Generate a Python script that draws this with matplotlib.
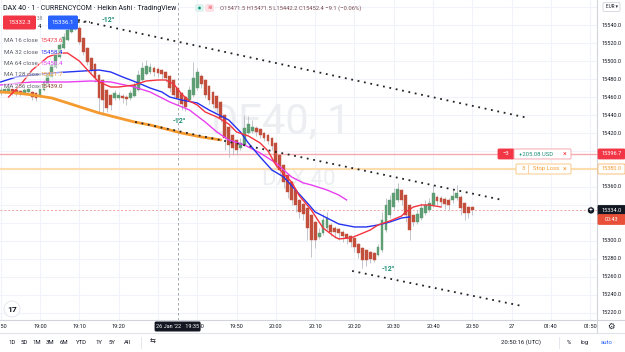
import matplotlib
matplotlib.use('Agg')
import matplotlib.pyplot as plt
from matplotlib.patches import FancyBboxPatch, Circle

plt.rcParams['font.family'] = ['Roboto', 'DejaVu Sans']

# bar index = minutes after 19:00 (1 minute Heikin Ashi bars)
bar_idx = list(range(-10, 111))
ha_open = [
    15464.5, 15465.6, 15466.7, 15468.9, 15467.8, 15466.7, 15464.5, 15465.6, 15465.6, 15464.5,
    15461.1, 15467.8, 15474.5, 15482.3, 15493.4, 15504.5, 15514.5, 15523.4, 15532.2, 15536.7,
    15536.7, 15525.6, 15514.5, 15503.4, 15496.7, 15484.5, 15478.9, 15467.8, 15462.3, 15458.9,
    15458.9, 15461.1, 15460.0, 15458.9, 15461.1, 15467.8, 15478.9, 15485.6, 15487.8, 15492.3,
    15491.1, 15490.0, 15487.8, 15483.4, 15478.9, 15470.0, 15464.5, 15460.0, 15456.7, 15462.3,
    15470.0, 15483.4, 15478.9, 15472.3, 15465.6, 15461.1, 15454.5, 15440.0, 15426.7, 15417.8,
    15412.3, 15403.4, 15406.7, 15420.0, 15422.3, 15425.6, 15424.5, 15420.0, 15417.8, 15414.5,
    15408.9, 15395.6, 15384.5, 15373.4, 15365.6, 15356.7, 15345.6, 15341.1, 15336.7, 15328.9,
    15321.1, 15304.5, 15308.9, 15314.5, 15317.8, 15314.5, 15313.4, 15310.0, 15307.8, 15305.6,
    15303.4, 15296.7, 15292.3, 15290.0, 15287.8, 15286.7, 15284.5, 15290.0, 15312.2, 15328.9,
    15337.8, 15345.6, 15356.7, 15351.1, 15340.0, 15328.9, 15321.1, 15325.6, 15331.1, 15334.5,
    15340.0, 15348.9, 15347.8, 15346.7, 15345.6, 15345.6, 15347.8, 15348.9, 15342.3, 15337.8,
    15337.8]
ha_high = [
    15471.1, 15472.3, 15473.4, 15470.0, 15468.9, 15467.8, 15470.0, 15471.1, 15466.7, 15465.6,
    15472.3, 15478.9, 15487.8, 15498.9, 15510.0, 15521.1, 15531.1, 15538.9, 15547.8, 15545.6,
    15538.9, 15526.7, 15515.6, 15504.5, 15497.8, 15485.6, 15480.0, 15468.9, 15463.4, 15467.8,
    15465.6, 15463.4, 15462.3, 15467.8, 15476.7, 15490.0, 15498.9, 15501.1, 15497.8, 15494.5,
    15493.4, 15491.1, 15488.9, 15484.5, 15480.0, 15471.1, 15465.6, 15461.1, 15472.3, 15498.9,
    15492.3, 15485.6, 15480.0, 15473.4, 15466.7, 15462.3, 15455.6, 15441.1, 15427.8, 15418.9,
    15413.4, 15414.5, 15440.0, 15439.0, 15434.5, 15427.8, 15425.6, 15421.1, 15418.9, 15415.6,
    15410.0, 15396.7, 15385.6, 15374.5, 15366.7, 15357.8, 15346.7, 15342.3, 15337.8, 15330.0,
    15322.3, 15314.5, 15330.0, 15332.2, 15320.0, 15316.7, 15314.5, 15312.2, 15308.9, 15306.7,
    15304.5, 15297.8, 15293.4, 15291.1, 15288.9, 15287.8, 15296.7, 15332.2, 15347.8, 15351.1,
    15359.0, 15364.5, 15357.8, 15352.2, 15341.1, 15330.0, 15334.5, 15342.3, 15345.6, 15347.8,
    15362.3, 15351.1, 15350.0, 15348.9, 15347.8, 15356.7, 15362.3, 15351.1, 15343.4, 15338.9,
    15338.9]
ha_low = [
    15462.3, 15464.5, 15465.6, 15462.3, 15461.1, 15461.1, 15463.4, 15464.5, 15456.7, 15455.6,
    15460.0, 15466.7, 15473.4, 15481.1, 15492.3, 15503.4, 15513.4, 15522.3, 15531.1, 15534.5,
    15519.0, 15506.7, 15495.6, 15486.7, 15476.7, 15443.4, 15440.0, 15443.4, 15445.6, 15456.7,
    15456.7, 15453.4, 15451.1, 15456.7, 15460.0, 15466.7, 15477.8, 15484.5, 15485.6, 15483.4,
    15482.3, 15480.0, 15476.7, 15465.6, 15458.9, 15453.4, 15445.6, 15444.5, 15454.5, 15460.0,
    15467.8, 15470.0, 15458.9, 15452.3, 15447.8, 15443.4, 15432.3, 15401.1, 15393.4, 15395.6,
    15395.6, 15401.1, 15405.6, 15418.9, 15420.0, 15417.0, 15414.5, 15411.1, 15408.0, 15401.1,
    15381.1, 15373.4, 15358.9, 15347.8, 15340.0, 15332.2, 15325.6, 15323.4, 15301.1, 15282.3,
    15292.3, 15302.3, 15306.7, 15312.2, 15305.6, 15303.4, 15301.1, 15298.9, 15296.7, 15293.4,
    15287.8, 15281.1, 15270.0, 15272.3, 15275.6, 15276.7, 15283.4, 15287.8, 15310.0, 15325.6,
    15335.6, 15343.4, 15340.0, 15321.1, 15301.1, 15316.7, 15318.9, 15323.4, 15328.9, 15332.2,
    15337.8, 15340.0, 15337.8, 15335.6, 15334.5, 15342.3, 15345.6, 15328.9, 15323.4, 15325.6,
    15328.9]
ha_close = [
    15467.8, 15468.9, 15470.0, 15464.5, 15463.4, 15463.4, 15467.8, 15468.9, 15460.0, 15458.9,
    15470.0, 15476.7, 15484.5, 15495.6, 15506.7, 15517.8, 15526.7, 15534.5, 15538.9, 15541.1,
    15521.1, 15510.0, 15498.9, 15490.0, 15481.1, 15458.9, 15456.7, 15447.8, 15451.1, 15464.5,
    15462.3, 15458.9, 15457.8, 15464.5, 15473.4, 15484.5, 15492.3, 15494.5, 15493.4, 15487.8,
    15486.7, 15485.6, 15481.1, 15470.0, 15462.3, 15458.9, 15452.3, 15448.9, 15467.8, 15481.1,
    15487.8, 15474.5, 15462.3, 15456.7, 15452.3, 15447.8, 15436.7, 15414.5, 15406.7, 15403.4,
    15401.1, 15408.9, 15425.6, 15430.0, 15426.7, 15421.1, 15417.8, 15414.5, 15411.1, 15405.6,
    15386.7, 15378.9, 15365.6, 15354.5, 15345.6, 15340.0, 15332.2, 15330.0, 15314.5, 15301.1,
    15301.1, 15308.9, 15323.4, 15325.6, 15310.0, 15310.0, 15308.9, 15305.6, 15303.4, 15298.9,
    15293.4, 15286.7, 15278.9, 15278.9, 15280.0, 15278.9, 15293.4, 15323.4, 15340.0, 15345.6,
    15353.4, 15357.8, 15345.6, 15328.9, 15312.2, 15321.1, 15330.0, 15336.7, 15340.0, 15342.3,
    15353.4, 15344.5, 15343.4, 15341.1, 15340.0, 15350.0, 15353.4, 15336.7, 15331.1, 15331.1,
    15334.0]

# moving averages, read at a few bars each
ma16_idx = [-8, -5, -2, 2, 4, 6, 7, 10, 13, 15, 18, 20, 24, 27, 30, 32, 34, 36, 38, 40, 42, 45,
            48, 50, 53, 56, 58, 60, 62, 64, 66, 69, 72, 75, 76, 79, 81, 84, 86, 89, 92, 93, 95,
            97, 99, 102]
ma16_val = [15460.0, 15473.4, 15490.0, 15504.5, 15507.8, 15508.9, 15508.9, 15500.0, 15485.6,
            15476.7, 15471.1, 15471.1, 15473.4, 15477.8, 15478.9, 15478.9, 15474.5, 15463.4,
            15455.6, 15451.1, 15443.4, 15437.8, 15430.0, 15421.1, 15416.7, 15408.9, 15400.0,
            15384.5, 15374.5, 15365.6, 15350.0, 15334.5, 15314.5, 15304.5, 15302.3, 15303.4,
            15306.7, 15312.2, 15317.8, 15322.3, 15327.8, 15332.2, 15337.8, 15340.0, 15340.0,
            15337.8]
ma32_idx = [-10, -6, -2, 3, 7, 11, 15, 18, 21, 25, 28, 31, 33, 36, 40, 43, 48, 51, 53, 56, 59,
            62, 65, 68, 70, 73, 76, 80, 83, 86, 89, 92, 94]
ma32_val = [15476.7, 15482.3, 15484.5, 15486.7, 15487.8, 15488.9, 15490.0, 15487.8, 15482.3,
            15475.6, 15470.0, 15465.6, 15460.0, 15456.7, 15453.4, 15445.6, 15434.5, 15421.1,
            15408.9, 15393.4, 15378.9, 15371.1, 15356.7, 15342.3, 15332.2, 15325.6, 15318.9,
            15315.6, 15315.6, 15317.8, 15321.1, 15325.6, 15326.7]
ma64_idx = [-10, -2, 7, 13, 18, 24, 28, 33, 38, 42, 45, 48, 52, 56, 60, 64, 67, 69, 73, 76, 78]
ma64_val = [15473.4, 15476.7, 15476.7, 15477.8, 15476.7, 15471.1, 15465.6, 15454.5, 15445.6,
            15432.3, 15421.1, 15412.3, 15406.7, 15397.8, 15386.7, 15371.1, 15364.5, 15362.3,
            15356.7, 15351.1, 15345.6]
ma128_idx = [-10, -6, -2, 3, 7, 11, 15, 20, 24, 28, 32, 36, 41, 46]
ma128_val = [15465.6, 15464.5, 15462.3, 15458.9, 15453.4, 15447.8, 15442.3, 15436.7, 15432.3,
             15428.9, 15424.5, 15420.0, 15415.6, 15412.3]

# trend line drawings (bar, price) pairs
trend_upper = ([9.7, 124.2], [15545.6, 15436.7])
trend_mid = ([24.2, 117.6], [15432.3, 15345.6])
trend_low = ([79.4, 122.6], [15266.7, 15227.8])

position_price = 15396.7
stop_price = 15380.0
last_price = 15334.0
crosshair_bar = 35

time_ticks = [-10, 0, 10, 20, 40, 50, 60, 70, 80, 90, 100, 110, 120, 130, 140]
time_labels = ['18:50', '19:00', '19:10', '19:20', '19:40', '19:50', '20:00', '20:10',
               '20:20', '20:30', '20:40', '20:50', '27', '01:40', '01:50']
grid_ticks = list(range(-10, 141, 10))
price_ticks = list(range(15220, 15561, 20))

legend_rows = [('MA 16 close', '15473.6', '#f23645'), ('MA 32 close', '15458.4', '#2432f0'),
               ('MA 64 close', '15450.4', '#e040fb'), ('MA 128 close', '15421.7', '#f59a2f'),
               ('MA 256 close', '15439.0', '#8d3b2a')]

UP = '#5f9e74'
DOWN = '#c24e3c'
WICK = '#b8bbc4'
GRID = '#f0f3fa'
TEXT = '#131722'
MUTED = '#787b86'
TEAL = '#1f8f78'

W, H = 625, 352
PANE_R, PANE_B = 597, 320

fig = plt.figure(figsize=(W / 100, H / 100), dpi=100)
fig.patch.set_facecolor('white')
ax = fig.add_axes([0, 1 - PANE_B / H, PANE_R / W, PANE_B / H])
ax.set_xlim(-10.18, 141.7)
ax.set_ylim(15212.2, 15567.8)
ax.axis('off')

ov = fig.add_axes([0, 0, 1, 1], zorder=5)
ov.set_xlim(0, W)
ov.set_ylim(H, 0)
ov.axis('off')
ov.patch.set_alpha(0)


def price_px(p):
    disp = ax.transData.transform((0, p))
    return ov.transData.inverted().transform(disp)[1]


def bar_px(i):
    disp = ax.transData.transform((i, 15400))
    return ov.transData.inverted().transform(disp)[0]


# grid
for t in grid_ticks:
    ax.axvline(t, color=GRID, lw=0.8, zorder=0)
for p in price_ticks:
    ax.axhline(p, color=GRID, lw=0.8, zorder=0)

# watermark
ax.text(0.47, 0.62, 'DE40, 1', transform=ax.transAxes, ha='center', va='center',
        fontsize=30, color='#eceef2', zorder=0.5)
ax.text(0.5, 0.44, 'DAX 40', transform=ax.transAxes, ha='center', va='center',
        fontsize=16, color='#eceef2', zorder=0.5)

# crosshair
ax.axvline(crosshair_bar, color='#9598a1', lw=0.6, ls=(0, (3, 3)), zorder=1)

# price lines
ax.axhline(position_price, color='#f7a9b0', lw=1.0, zorder=1)
ax.axhline(stop_price, color='#fddcae', lw=1.5, zorder=1)
ax.axhline(last_price, color='#f0a5a5', lw=0.7, ls=(0, (2, 2)), zorder=1)

# candles
for i, o, hi, lo, c in zip(bar_idx, ha_open, ha_high, ha_low, ha_close):
    col = UP if c >= o else DOWN
    ax.vlines(i, lo, hi, color=WICK, lw=0.6, zorder=2)
    ax.bar(i, c - o, bottom=o, width=0.72, color=col, edgecolor=col, lw=0.3, zorder=3)

# moving averages
ax.plot(ma128_idx, ma128_val, color='#f59a2f', lw=2.0, zorder=4, solid_capstyle='round')
ax.plot(ma64_idx, ma64_val, color='#e83ff0', lw=1.0, zorder=4)
ax.plot(ma32_idx, ma32_val, color='#2432f0', lw=1.0, zorder=4)
ax.plot(ma16_idx, ma16_val, color='#f5333f', lw=1.0, zorder=4)

# trend lines
for tx, ty in (trend_upper, trend_mid, trend_low):
    ax.plot(tx, ty, color='#222222', lw=1.3, ls=(0, (1, 2.6)), zorder=5)
ax.plot([trend_upper[0][0], trend_upper[0][0] + 3], [trend_upper[1][0] - 2, trend_upper[1][0] - 2],
        color='#222222', lw=1.1, ls=(0, (1, 2.6)), zorder=5)
ax.text(trend_upper[0][0] + 6, trend_upper[1][0], '-12°', color=TEAL, fontsize=5, ha='left',
        va='center', zorder=6, fontweight='bold')
ax.text(trend_mid[0][0] + 9.5, trend_mid[1][0] + 1, '-12°', color=TEAL, fontsize=5, ha='left',
        va='center', zorder=6, fontweight='bold')
ax.text(trend_low[0][0] + 7.5, trend_low[1][0] + 2, '-12°', color=TEAL, fontsize=5, ha='left',
        va='center', zorder=6, fontweight='bold')

# separators
ov.plot([PANE_R, PANE_R], [0, 333], color='#d1d4dc', lw=0.8)
ov.plot([0, W], [PANE_B, PANE_B], color='#d1d4dc', lw=0.8)
ov.plot([0, W], [333, 333], color='#e0e3eb', lw=0.8)

# time axis labels
for t, lab in zip(time_ticks, time_labels):
    ov.text(bar_px(t), 327, lab, ha='center', va='center', fontsize=4, color=TEXT, zorder=3)
cx = bar_px(crosshair_bar)
ov.add_patch(FancyBboxPatch((cx - 23, 321.5), 46, 10, boxstyle='round,pad=0,rounding_size=1.5',
                            fc='#131722', ec='none', zorder=7))
ov.text(cx, 326.7, "26 Jan '22   19:35", ha='center', va='center', fontsize=4, color='white',
        zorder=8)

# price axis labels (the ones under a price tag are hidden, as on the chart)
tag_px = [price_px(position_price), price_px(stop_price), price_px(last_price)]
for p in price_ticks:
    y = price_px(p)
    if 15 < y < 318 and all(abs(y - ty) > 7 for ty in tag_px):
        ov.text(611, y, '%.1f' % p, ha='center', va='center', fontsize=4, color=TEXT)


def axis_tag(p, label, fc, tc, ec=None, dy=0):
    y = price_px(p) + dy
    ov.add_patch(FancyBboxPatch((598, y - 5), 27, 10, boxstyle='round,pad=0,rounding_size=1',
                                fc=fc, ec=ec or fc, lw=0.6, zorder=7))
    ov.text(611.5, y, label, ha='center', va='center', fontsize=4, color=tc, zorder=8)


axis_tag(position_price, '%.1f' % position_price, '#f23645', 'white')
axis_tag(stop_price, '%.1f' % stop_price, 'white', '#f59a2f', ec='#f7b366')
axis_tag(last_price, '%.1f' % last_price, '#131722', 'white')
axis_tag(last_price, '00:43', '#e8503a', 'white', dy=9)
ov.add_patch(Circle((591, price_px(last_price)), 3.6, fc='#131722', ec='white', lw=0.5, zorder=7))
ov.text(591, price_px(last_price), '+', ha='center', va='center', fontsize=5, color='white',
        zorder=8)
ov.add_patch(FancyBboxPatch((603, 2.5), 17, 9, boxstyle='round,pad=0,rounding_size=1.5',
                            fc='white', ec='#d1d4dc', lw=0.6))
ov.text(611.5, 7, 'EUR ▾', ha='center', va='center', fontsize=3.3, color=TEXT)

# order / stop labels on the pane
yp = price_px(position_price)
ov.add_patch(FancyBboxPatch((498, yp - 5), 16, 10, boxstyle='round,pad=0,rounding_size=1',
                            fc='#f23645', ec='#f23645', lw=0.6, zorder=7))
ov.text(506, yp, '−3', ha='center', va='center', fontsize=4.2, color='white', zorder=8)
ov.add_patch(FancyBboxPatch((514, yp - 5), 57, 10, boxstyle='round,pad=0,rounding_size=1',
                            fc='white', ec='#f7a9b0', lw=0.7, zorder=7))
ov.text(536, yp, '+205.08 USD', ha='center', va='center', fontsize=4.2, color=TEAL, zorder=8)
ov.text(565, yp, '×', ha='center', va='center', fontsize=5, color='#f23645', zorder=8)
ys = price_px(stop_price)
ov.add_patch(FancyBboxPatch((516, ys - 5), 55, 10, boxstyle='round,pad=0,rounding_size=1',
                            fc='white', ec='#fbc98a', lw=0.7, zorder=7))
ov.text(523, ys, '3', ha='center', va='center', fontsize=4.2, color='#f59a2f', zorder=8)
ov.plot([528, 528], [ys - 4, ys + 4], color='#fbc98a', lw=0.6, zorder=8)
ov.text(546, ys, 'Stop Loss', ha='center', va='center', fontsize=4.2, color='#f59a2f', zorder=8)
ov.text(565, ys, '×', ha='center', va='center', fontsize=5, color='#f59a2f', zorder=8)

# legend (top-left)
ov.text(3, 8, 'DAX 40 · 1 · CURRENCYCOM · Heikin Ashi · TradingView', ha='left',
        va='center', fontsize=5, color=TEXT,
        bbox=dict(fc='white', ec='none', alpha=0.6, pad=0.5))
ov.add_patch(FancyBboxPatch((195, 4), 9, 8, boxstyle='round,pad=0,rounding_size=2',
                            fc='#dff3ee', ec='none'))
ov.add_patch(Circle((199.5, 8), 1.4, fc='#089981', ec='none'))
ov.add_patch(FancyBboxPatch((205, 4), 9, 8, boxstyle='round,pad=0,rounding_size=2',
                            fc='#fde2e7', ec='none'))
ov.text(209.5, 8, '≋', ha='center', va='center', fontsize=4, color='#f23645')
ov.text(220, 8, 'O15471.5 H15471.5 L15442.2 C15452.4 −9.1 (−0.06%)', ha='left', va='center',
        fontsize=4.2, color='#7a4a52')
ov.add_patch(FancyBboxPatch((3, 15.5), 33, 14, boxstyle='round,pad=0,rounding_size=1.5',
                            fc='#f23645', ec='none'))
ov.text(19.5, 22.5, '15332.3', ha='center', va='center', fontsize=4.4, color='white')
ov.text(40, 18, '3.8', ha='center', va='center', fontsize=3.3, color=MUTED)
ov.text(40, 27, '4', ha='center', va='center', fontsize=4.4, color=TEXT)
ov.add_patch(FancyBboxPatch((48, 15.5), 30, 14, boxstyle='round,pad=0,rounding_size=1.5',
                            fc='#2962ff', ec='none'))
ov.text(63, 22.5, '15336.1', ha='center', va='center', fontsize=4.4, color='white')
for k, (name, val, col) in enumerate(legend_rows):
    y = 41 + k * 11.3
    ov.text(4, y, name, ha='left', va='center', fontsize=4.4, color='#5d606b',
            bbox=dict(fc='white', ec='none', alpha=0.55, pad=0.4))
    ov.text(40, y, val, ha='left', va='center', fontsize=4.4, color=col,
            bbox=dict(fc='white', ec='none', alpha=0.55, pad=0.4))

# TradingView logo
ov.add_patch(Circle((12, 309), 8, fc='white', ec='#e0e3eb', lw=0.6, zorder=7))
ov.text(12, 309.5, '17', ha='center', va='center', fontsize=6, fontweight='bold', color=TEXT,
        zorder=8)

# bottom toolbar
ranges = ['1D', '5D', '1M', '3M', '6M', 'YTD', '1Y', '5Y', 'All']
rx = [12, 24, 37, 50, 64, 81, 99, 112, 127]
for x, lab in zip(rx, ranges):
    ov.text(x, 342.5, lab, ha='center', va='center', fontsize=4.3, color=TEXT)
ov.plot([141, 141], [337, 348], color='#e0e3eb', lw=0.6)
ov.text(153, 342.5, '⇆', ha='center', va='center', fontsize=5, color=TEXT)
ov.text(521, 342.5, '20:50:16 (UTC)', ha='center', va='center', fontsize=4.3, color=TEXT)
ov.plot([559, 559], [337, 348], color='#e0e3eb', lw=0.6)
ov.text(569, 342.5, '%', ha='center', va='center', fontsize=4.3, color=TEXT)
ov.text(585, 342.5, 'log', ha='center', va='center', fontsize=4.3, color=TEXT)
ov.text(607, 342.5, 'auto', ha='center', va='center', fontsize=4.3, color='#2962ff')
ov.text(611, 326.5, '⚙', ha='center', va='center', fontsize=6, color=TEXT)

fig.savefig('out.png', dpi=100, facecolor='white')
